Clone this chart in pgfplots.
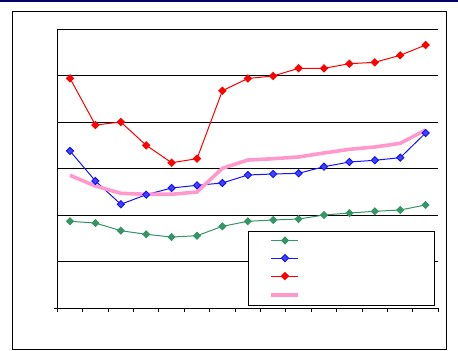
\documentclass[border=0pt]{standalone}
\usepackage{pgfplots}
\pgfplotsset{compat=1.18}
\definecolor{navy}{RGB}{0,0,102}
\definecolor{sgreen}{RGB}{51,150,100}
\definecolor{bblue}{RGB}{20,20,255}
\definecolor{rred}{RGB}{255,0,0}
\definecolor{pinkl}{RGB}{255,153,204}
\begin{document}
\begin{tikzpicture}
\path[use as bounding box] (0,0) rectangle (458bp,351bp);
\fill[navy] (0,349.3bp) rectangle (458bp,351bp);
\draw[black, line width=1.2bp] (12.3bp,1.3bp) rectangle (446.7bp,339.3bp);
\begin{axis}[
  at={(57.3bp,42.7bp)}, anchor=south west,
  scale only axis, width=381bp, height=279bp,
  xmin=0.5, xmax=15.5, ymin=0, ymax=6,
  axis x line*=bottom, axis y line*=left,
  axis line style={black, line width=1.1bp},
  xtick={0.5,1.5,...,15.5}, xticklabels={},
  ytick={0,1,...,6}, yticklabels={},
  ymajorgrids, grid style={black, line width=1bp},
  x tick style={black, line width=1bp},
  y tick style={draw=none},
  tick align=outside, major tick length=3.5bp,
  extra y ticks={0}, extra y tick labels={},
  extra y tick style={y tick style={draw=black, line width=1bp}, ymajorgrids=false},
  clip=false,
  legend cell align=left,
  legend style={at={(rel axis cs:0.501,0.277)}, anchor=north west,
    draw=black, line width=1bp, fill=white, inner xsep=0pt, inner ysep=0pt,
    row sep=0pt, column sep=0pt,
    nodes={inner sep=0pt, line width=1bp}},
  legend image code/.code={\path (0bp,-8.4bp) (0bp,8.4bp); \draw[mark repeat=2,mark phase=2] plot coordinates {(21bp,0bp) (34.5bp,0bp) (48bp,0bp)};},
]
\addplot[sgreen, line width=1bp, mark=square*, mark size=2.4bp, mark options={fill=sgreen, solid, rotate=45}] coordinates {
(1,1.871) (2,1.834) (3,1.669) (4,1.591) (5,1.533) (6,1.561) (7,1.763) (8,1.871)
(9,1.899) (10,1.920) (11,2.006) (12,2.049) (13,2.086) (14,2.114) (15,2.222)};
\addlegendentry{\hspace*{134bp}}
\addplot[bblue, line width=1bp, mark=square*, mark size=2.5bp, mark options={fill=bblue!80!white, draw=bblue, solid, rotate=45}] coordinates {
(1,3.383) (2,2.738) (3,2.237) (4,2.443) (5,2.587) (6,2.645) (7,2.695) (8,2.867)
(9,2.888) (10,2.903) (11,3.045) (12,3.146) (13,3.183) (14,3.239) (15,3.770)};
\addlegendentry{\hspace*{134bp}}
\addplot[rred, line width=1bp, mark=square*, mark size=2.5bp, mark options={fill=rred, solid, rotate=45}] coordinates {
(1,4.946) (2,3.942) (3,4.006) (4,3.505) (5,3.131) (6,3.217) (7,4.680) (8,4.942)
(9,4.996) (10,5.161) (11,5.161) (12,5.260) (13,5.290) (14,5.441) (15,5.662)};
\addlegendentry{\hspace*{134bp}}
\addplot[pinkl, line width=3.6bp, no marks] coordinates {
(1,2.860) (2,2.630) (3,2.473) (4,2.452) (5,2.452) (6,2.501) (7,3.011) (8,3.189)
(9,3.217) (10,3.254) (11,3.340) (12,3.419) (13,3.469) (14,3.548) (15,3.834)};
\addlegendentry{\hspace*{134bp}}
\end{axis}
\end{tikzpicture}
\end{document}
